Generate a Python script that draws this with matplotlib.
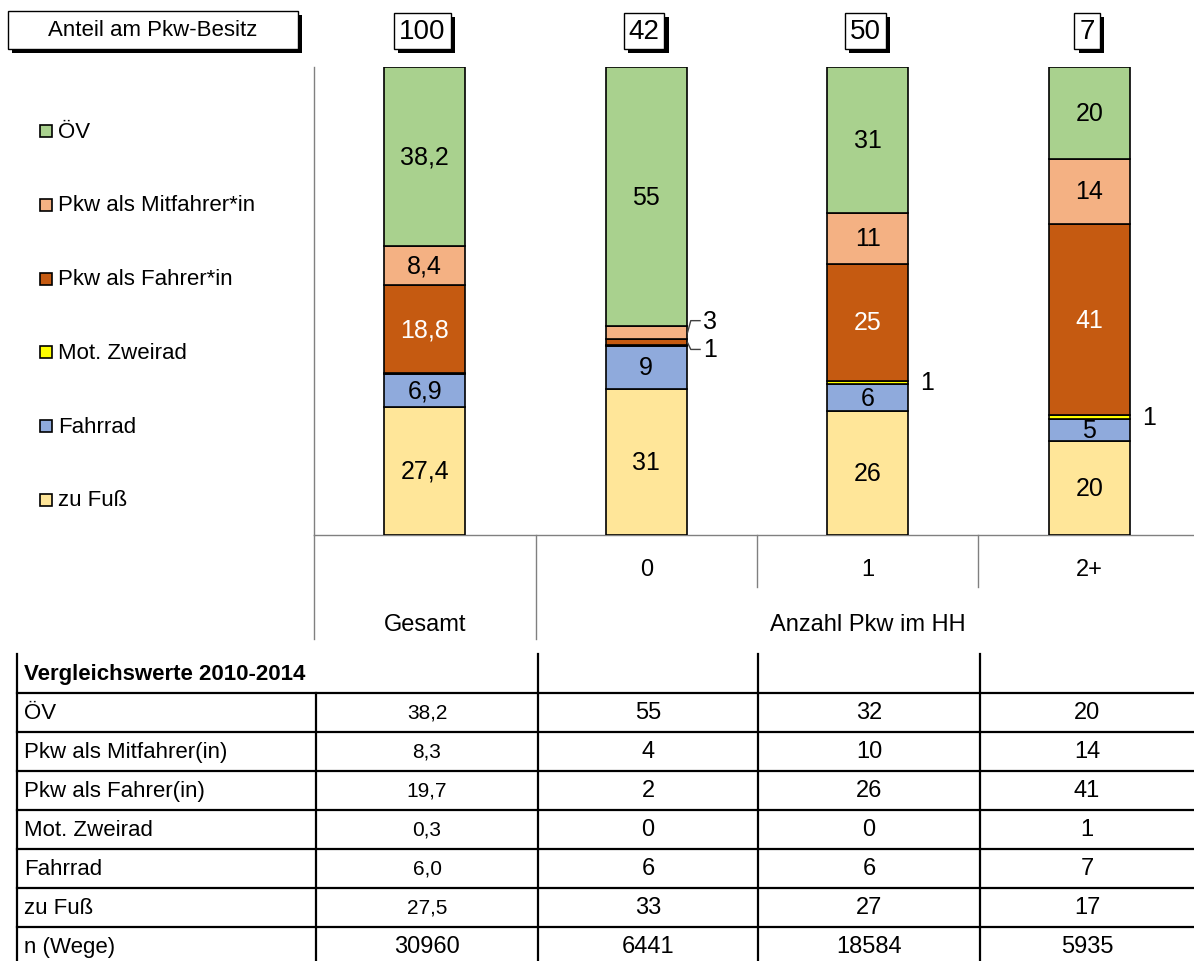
import matplotlib
matplotlib.use('Agg')
import matplotlib.pyplot as plt
from matplotlib.patches import Rectangle
from matplotlib.lines import Line2D
from matplotlib.transforms import blended_transform_factory
import matplotlib.patheffects as pe

plt.rcParams['font.family'] = ['Liberation Sans Narrow', 'Liberation Sans', 'DejaVu Sans']

# ---------------- data ----------------
groups = ['Gesamt', '0', '1', '2+']
group_title = 'Anzahl Pkw im HH'
pkw_share = [100, 42, 50, 7]

modes = ['zu Fuß', 'Fahrrad', 'Mot. Zweirad', 'Pkw als Fahrer*in',
         'Pkw als Mitfahrer*in', 'ÖV']
colors = ['#FFE699', '#8FAADC', '#FFFF00', '#C55A11', '#F4B183', '#A9D18E']

zu_fuss   = [27.4, 31.2, 26.4, 20.1]
fahrrad   = [6.9, 9.2, 5.9, 4.6]
zweirad   = [0.3, 0.1, 0.6, 0.9]
fahrer    = [18.8, 1.3, 25.1, 40.8]
mitfahrer = [8.4, 2.8, 10.8, 14.0]
oev       = [38.2, 55.4, 31.2, 19.6]
series = [zu_fuss, fahrrad, zweirad, fahrer, mitfahrer, oev]

table_title = 'Vergleichswerte 2010-2014'
table_rows = ['ÖV', 'Pkw als Mitfahrer(in)', 'Pkw als Fahrer(in)', 'Mot. Zweirad',
              'Fahrrad', 'zu Fuß', 'n (Wege)']
cmp_gesamt = [38.2, 8.3, 19.7, 0.3, 6.0, 27.5]
cmp_0 = [55, 4, 2, 0, 6, 33]
cmp_1 = [32, 10, 26, 0, 6, 27]
cmp_2 = [20, 14, 41, 1, 7, 17]
n_wege = [30960, 6441, 18584, 5935]

# ---------------- figure ----------------
W, H = 1194, 962
fig = plt.figure(figsize=(W / 100, H / 100), dpi=100)

ov = fig.add_axes([0, 0, 1, 1])
ov.set_xlim(0, W)
ov.set_ylim(H, 0)
ov.axis('off')

ax = fig.add_axes([314 / W, 1 - 536 / H, (W - 314) / W, 468 / H])
ax.patch.set_alpha(0)
slot = 221.5
ax.set_xlim(-0.5, -0.5 + (W - 314) / slot)
ax.set_ylim(0, 100)
for s in ['top', 'right']:
    ax.spines[s].set_visible(False)
for s in ['left', 'bottom']:
    ax.spines[s].set_color('#808080')
    ax.spines[s].set_linewidth(1)
ax.set_xticks([])
ax.set_yticks([])

x = list(range(len(groups)))
bw = 0.366
bottom = [0.0] * len(groups)
containers = []
for vals, col, name in zip(series, colors, modes):
    bc = ax.bar(x, vals, bw, bottom=bottom, color=col, edgecolor='black',
                linewidth=1.2, label=name, zorder=3)
    containers.append(bc)
    bottom = [b + v for b, v in zip(bottom, vals)]

LFS = 18
# segment labels
for mi, (vals, name) in enumerate(zip(series, modes)):
    for gi in range(len(groups)):
        v = vals[gi]
        base = sum(series[k][gi] for k in range(mi))
        cy = base + v / 2
        lab = (f'{v:.1f}'.replace('.', ',') if gi == 0 else f'{v:.0f}')
        if v < 0.5:
            continue
        if v >= 4:
            ax.text(gi, cy, lab, ha='center', va='center', fontsize=LFS,
                    color='white' if name == 'Pkw als Fahrer*in' else 'black', zorder=5)
        elif name == 'Mot. Zweirad':
            ax.text(gi + 0.27, cy, lab, ha='center', va='center', fontsize=LFS, zorder=5)
        else:
            edge = gi + bw / 2
            ly = cy + (2.6 if name == 'Pkw als Mitfahrer*in' else -1.5)
            ax.add_line(Line2D([edge + 0.003, edge + 0.018, edge + 0.06], [cy, ly, ly],
                               color='#404040', lw=1, zorder=4, clip_on=False))
            ax.text(edge + 0.105, ly, lab, ha='center', va='center', fontsize=LFS, zorder=5)

# lines below the axis
lc = '#808080'
for xx, y1 in [(314, 640), (536, 640), (757, 588), (978, 588)]:
    ov.add_line(Line2D([xx, xx], [536, y1], color=lc, lw=1))

CFS = 17
bt = blended_transform_factory(ax.transData, ov.transData)
for gi, g in enumerate(groups):
    if gi == 0:
        ax.text(gi, 625, g, transform=bt, ha='center', va='center', fontsize=CFS)
    else:
        ax.text(gi, 570, g, transform=bt, ha='center', va='center', fontsize=CFS)
ax.text(2, 625, group_title, transform=bt, ha='center', va='center', fontsize=CFS)

# share boxes
for gi, s in enumerate(pkw_share):
    t = ax.text(gi - 0.01, 32, str(s), transform=bt, ha='center', va='center',
                fontsize=20, zorder=6,
                bbox=dict(boxstyle='square,pad=0.18', fc='white', ec='black', lw=1))
    t.get_bbox_patch().set_path_effects(
        [pe.SimplePatchShadow(offset=(3, -3), shadow_rgbFace='black', alpha=1), pe.Normal()])

# title box
ov.add_patch(Rectangle((12, 16), 290, 38, fc='black', ec='none'))
ov.add_patch(Rectangle((8, 12), 290, 38, fc='white', ec='black', lw=1))
ov.text(153, 31, 'Anteil am Pkw-Besitz', ha='center', va='center', fontsize=16)

# legend (top to bottom: reverse stacking order)
leg_y0, leg_dy = 132, 73.8
for k, (name, col) in enumerate(zip(modes[::-1], colors[::-1])):
    yy = leg_y0 + k * leg_dy
    ov.add_patch(Rectangle((40, yy - 6), 12, 12, fc=col, ec='black', lw=1.2))
    ov.text(58, yy, name, ha='left', va='center', fontsize=16)

# table
tlw = 1.6
cols = [17, 316, 538, 758, 980, W]
top = 655
rh = 39
r0 = 694
nrows = len(table_rows)
for xx in [17, 538, 758, 980]:
    ov.add_line(Line2D([xx, xx], [top, H], color='black', lw=tlw))
ov.add_line(Line2D([316, 316], [r0, H], color='black', lw=tlw))
for k in range(nrows + 1):
    yy = r0 + k * rh
    ov.add_line(Line2D([17, W], [yy, yy], color='black', lw=tlw))
ov.text(24, (top + r0) / 2, table_title, ha='left', va='center', fontsize=16,
        fontweight='bold')
centers = [(cols[i] + cols[i + 1]) / 2 for i in range(1, 5)]
col_vals = [cmp_gesamt, cmp_0, cmp_1, cmp_2]
for k, rname in enumerate(table_rows):
    yy = r0 + k * rh + rh / 2
    ov.text(24, yy, rname, ha='left', va='center', fontsize=16)
    for ci, cv in enumerate(col_vals):
        if k < len(cv):
            s = f'{cv[k]:.1f}'.replace('.', ',') if ci == 0 else f'{cv[k]}'
            fs = 15 if ci == 0 else 17
        else:
            s = str(n_wege[ci])
            fs = 17
        ov.text(centers[ci], yy, s, ha='center', va='center', fontsize=fs)

fig.savefig('out.png', dpi=100)
